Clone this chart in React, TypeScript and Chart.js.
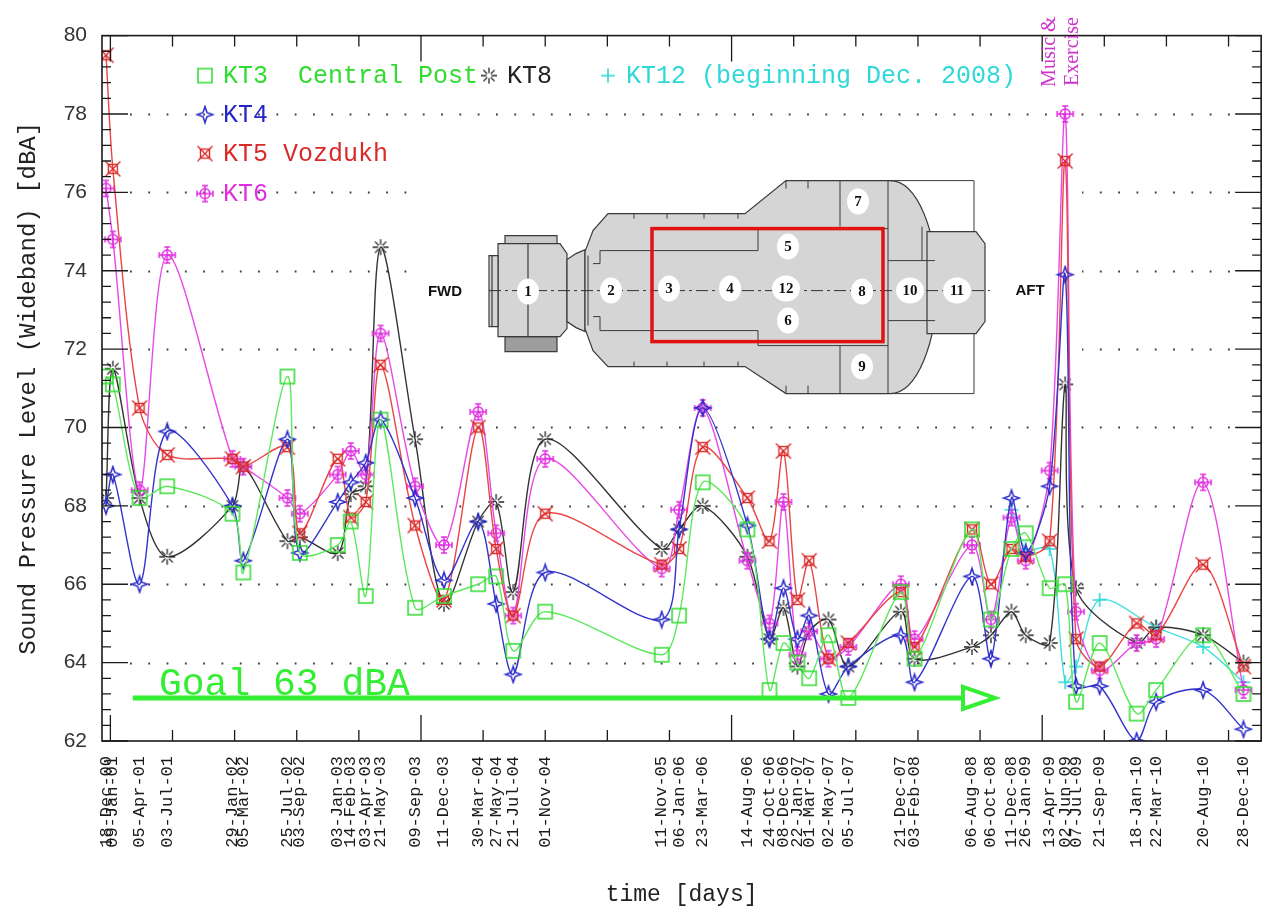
import React, { useEffect, useRef } from 'react';
import { Chart, registerables } from 'chart.js';

Chart.register(...registerables);

// measurement dates (x) and the labels printed under the axis
const dates = [
  '2000-12-18', '2001-01-09', '2001-04-05', '2001-07-03', '2002-01-29', '2002-03-05',
  '2002-07-25', '2002-09-03', '2003-01-03', '2003-02-14', '2003-04-03', '2003-05-21',
  '2003-09-09', '2003-12-11', '2004-03-30', '2004-05-27', '2004-07-21', '2004-11-01',
  '2005-11-11', '2006-01-06', '2006-03-23', '2006-08-14', '2006-10-24', '2006-12-08',
  '2007-01-22', '2007-03-01', '2007-05-02', '2007-07-05', '2007-12-21', '2008-02-03',
  '2008-08-06', '2008-10-06', '2008-12-11', '2009-01-26', '2009-04-13', '2009-06-02',
  '2009-07-07', '2009-09-21', '2010-01-18', '2010-03-22', '2010-08-20', '2010-12-28',
];
const dateLabels = [
  '18-Dec-00', '09-Jan-01', '05-Apr-01', '03-Jul-01', '29-Jan-02', '05-Mar-02',
  '25-Jul-02', '03-Sep-02', '03-Jan-03', '14-Feb-03', '03-Apr-03', '21-May-03',
  '09-Sep-03', '11-Dec-03', '30-Mar-04', '27-May-04', '21-Jul-04', '01-Nov-04',
  '11-Nov-05', '06-Jan-06', '23-Mar-06', '14-Aug-06', '24-Oct-06', '08-Dec-06',
  '22-Jan-07', '01-Mar-07', '02-May-07', '05-Jul-07', '21-Dec-07', '03-Feb-08',
  '06-Aug-08', '06-Oct-08', '11-Dec-08', '26-Jan-09', '13-Apr-09', '02-Jun-09',
  '07-Jul-09', '21-Sep-09', '18-Jan-10', '22-Mar-10', '20-Aug-10', '28-Dec-10',
];

const kt3 = [71.3, 71.1, 68.2, 68.5, 67.8, 66.3, 71.3, 66.8, 67.0, 67.6, 65.7, 70.2, 65.4, 65.7,
  66.0, 66.2, 64.3, 65.3, 64.2, 65.2, 68.6, 67.4, 63.3, 64.5, 64.0, 63.6, 64.7, 63.1,
  65.8, 64.1, 67.4, 65.1, 66.9, 67.3, 65.9, 66.0, 63.0, 64.5, 62.7, 63.3, 64.7, 63.2];
const kt4 = [68.0, 68.8, 66.0, 69.9, 68.0, 66.6, 69.7, 66.8, 68.1, 68.6, 69.1, 70.2, 68.2, 66.1,
  67.6, 65.5, 63.7, 66.3, 65.1, 67.4, 70.5, 67.5, 64.6, 65.9, 64.6, 65.2, 63.2, 63.9,
  64.7, 63.5, 66.2, 64.1, 68.2, 66.8, 68.5, 73.9, 63.4, 63.4, 62.0, 63.0, 63.3, 62.3];
const kt5 = [79.5, 76.6, 70.5, 69.3, 69.2, 69.0, 69.5, 67.3, 69.2, 67.7, 68.1, 71.6, 67.5, 65.6,
  70.0, 66.9, 65.2, 67.8, 66.5, 66.9, 69.5, 68.2, 67.1, 69.4, 65.6, 66.6, 64.1, 64.5,
  65.8, 64.4, 67.4, 66.0, 66.9, 66.7, 67.1, 76.8, 64.6, 63.9, 65.0, 64.7, 66.5, 63.9];
const kt6 = [76.1, 74.8, 68.4, 74.4, 69.2, 69.0, 68.2, 67.8, 68.8, 69.4, 68.8, 72.4, 68.5, 67.0,
  70.4, 67.3, 65.2, 69.2, 66.4, 67.9, 70.5, 66.6, 65.0, 68.1, 64.2, 64.8, 64.1, 64.4,
  66.0, 64.6, 67.0, 65.1, 67.7, 66.6, 68.9, 78.0, 65.3, 63.8, 64.5, 64.6, 68.6, 63.3];
const kt8 = [68.2, 71.5, 68.2, 66.7, 68.0, 69.0, 67.1, 67.2, 66.8, 68.3, 68.5, 74.6, 69.7, 65.5,
  67.6, 68.1, 65.8, 69.7, 66.9, 67.4, 68.0, 66.7, 64.6, 65.4, 63.9, 64.8, 65.1, 63.9,
  65.3, 64.1, 64.4, 64.7, 65.3, 64.7, 64.5, 71.1, 65.9, null, 64.5, 64.9, 64.7, 64.0];
const kt12 = [null, null, null, null, null, null, null, null, null, null, null, null, null, null,
  null, null, null, null, null, null, null, null, null, null, null, null, null, null,
  null, null, null, null, 67.9, 66.9, 66.9, 63.5, 63.9, 65.6, null, 64.9, 64.4, 63.5];

const yTickValues = [62, 64, 66, 68, 70, 72, 74, 76, 78, 80];
const gridValues = [64, 66, 68, 70, 72, 74, 76, 78];
const goalLevel = 63.1;
const goalFrom = 72;   // days since 1 Jan 2001
const goalHead = 2745;
const goalTip = 2848;
const musicDay = 3074;

const dayNum = (iso: string) =>
  (Date.parse(iso + 'T00:00:00Z') - Date.UTC(2001, 0, 1)) / 86400000;

const GREEN = '#2fdc2f';
const BLUE = '#2626c8';
const RED = '#d92a2a';
const MAGENTA = '#e02ee0';
const BLACK = '#222222';
const CYAN = '#2ed8d8';
const MONO = '"Liberation Mono", "Courier New", monospace';

function makeMarker(size: number, draw: (g: CanvasRenderingContext2D) => void) {
  const c = document.createElement('canvas');
  c.width = size;
  c.height = size;
  const g = c.getContext('2d')!;
  g.translate(size / 2, size / 2);
  draw(g);
  return c;
}

function starMarker(color: string) {
  return makeMarker(20, (g) => {
    g.strokeStyle = color;
    g.lineWidth = 1.5;
    g.beginPath();
    g.moveTo(0, -8); g.lineTo(2, -2); g.lineTo(8, 0); g.lineTo(2, 2);
    g.lineTo(0, 8); g.lineTo(-2, 2); g.lineTo(-8, 0); g.lineTo(-2, -2);
    g.closePath();
    g.stroke();
  });
}

function boxXMarker(color: string) {
  return makeMarker(20, (g) => {
    g.strokeStyle = color;
    g.lineWidth = 1.4;
    g.strokeRect(-4.5, -4.5, 9, 9);
    g.beginPath();
    g.moveTo(-7.5, -7.5); g.lineTo(7.5, 7.5);
    g.moveTo(7.5, -7.5); g.lineTo(-7.5, 7.5);
    g.stroke();
  });
}

function circleCrossMarker(color: string) {
  return makeMarker(22, (g) => {
    g.strokeStyle = color;
    g.lineWidth = 1.5;
    g.beginPath();
    g.arc(0, 0, 5, 0, Math.PI * 2);
    g.moveTo(-8, 0); g.lineTo(8, 0);
    g.moveTo(0, -8); g.lineTo(0, 8);
    g.moveTo(-8, -3); g.lineTo(-8, 3);
    g.moveTo(8, -3); g.lineTo(8, 3);
    g.moveTo(-3, -8); g.lineTo(3, -8);
    g.moveTo(-3, 8); g.lineTo(3, 8);
    g.stroke();
  });
}

function asteriskMarker(color: string) {
  return makeMarker(20, (g) => {
    g.strokeStyle = color;
    g.lineWidth = 1.3;
    g.beginPath();
    for (let k = 0; k < 8; k++) {
      const a = (k * Math.PI) / 4;
      g.moveTo(Math.cos(a) * 2.5, Math.sin(a) * 2.5);
      g.lineTo(Math.cos(a) * 8, Math.sin(a) * 8);
    }
    g.stroke();
  });
}

function squareMarker(color: string) {
  return makeMarker(20, (g) => {
    g.strokeStyle = color;
    g.lineWidth = 1.5;
    g.strokeRect(-7, -7, 14, 14);
  });
}

function plusMarker(color: string) {
  return makeMarker(20, (g) => {
    g.strokeStyle = color;
    g.lineWidth = 1.6;
    g.beginPath();
    g.moveTo(-7, 0); g.lineTo(7, 0);
    g.moveTo(0, -7); g.lineTo(0, 7);
    g.stroke();
  });
}

function drawStation(ctx: CanvasRenderingContext2D, ox: number, oy: number) {
  ctx.save();
  ctx.translate(ox, oy);
  ctx.fillStyle = '#ffffff';
  ctx.fillRect(-55, 5, 667, 230);

  const hull = '#d5d5d5';
  ctx.strokeStyle = '#3a3a3a';
  ctx.lineWidth = 1.2;

  const poly = (pts: number[][], fill: string) => {
    ctx.beginPath();
    pts.forEach(([px, py], i) => (i ? ctx.lineTo(px, py) : ctx.moveTo(px, py)));
    ctx.closePath();
    ctx.fillStyle = fill;
    ctx.fill();
    ctx.stroke();
  };
  const line = (pts: number[][]) => {
    ctx.beginPath();
    pts.forEach(([px, py], i) => (i ? ctx.lineTo(px, py) : ctx.moveTo(px, py)));
    ctx.stroke();
  };

  // module 1 (docking compartment)
  poly([[35, 72], [87, 72], [87, 80], [35, 80]], '#c9c9c9');
  poly([[35, 173], [87, 173], [87, 188], [35, 188]], '#9d9d9d');
  poly([[28, 80], [90, 80], [97, 90], [97, 165], [90, 173], [28, 173]], hull);
  poly([[19, 92], [28, 92], [28, 163], [19, 163]], hull);
  line([[22, 92], [22, 163]]);
  line([[58, 80], [58, 173]]);
  // neck
  poly([[97, 96], [106, 90], [115, 86], [115, 168], [106, 164], [97, 158]], hull);

  // main hull
  ctx.beginPath();
  ctx.moveTo(115, 88);
  ctx.lineTo(123, 67);
  ctx.lineTo(138, 50);
  ctx.lineTo(275, 50);
  ctx.lineTo(316, 17);
  ctx.lineTo(420, 17);
  ctx.bezierCurveTo(448, 17, 467, 70, 467, 123);
  ctx.bezierCurveTo(467, 176, 448, 230, 420, 230);
  ctx.lineTo(316, 230);
  ctx.lineTo(275, 203);
  ctx.lineTo(138, 203);
  ctx.lineTo(123, 187);
  ctx.lineTo(115, 165);
  ctx.closePath();
  ctx.fillStyle = hull;
  ctx.fill();
  ctx.stroke();

  // aft module
  poly([[457, 68], [506, 68], [515, 80], [515, 158], [506, 170], [457, 170]], hull);

  // thin outer frame
  ctx.lineWidth = 1;
  line([[420, 17], [504, 17], [504, 68]]);
  line([[420, 230], [504, 230], [504, 170]]);

  // inner partitions
  line([[118, 92], [118, 162]]);
  line([[123, 100], [130, 100], [130, 87], [288, 87], [288, 65], [418, 65]]);
  line([[123, 153], [130, 153], [130, 167], [288, 167], [288, 182], [418, 182]]);
  line([[370, 17], [370, 63]]);
  line([[370, 182], [370, 230]]);
  line([[418, 17], [418, 230]]);
  line([[452, 63], [452, 97]]);
  line([[418, 97], [465, 97]]);
  line([[418, 157], [465, 157]]);
  [164, 197, 234, 268].forEach((tx) => {
    line([[tx, 50], [tx, 55]]);
    line([[tx, 198], [tx, 203]]);
  });
  [316, 338].forEach((tx) => {
    line([[tx, 17], [tx, 25]]);
    line([[tx, 222], [tx, 230]]);
  });

  // centre line
  ctx.save();
  ctx.setLineDash([12, 4, 3, 4]);
  ctx.strokeStyle = '#333';
  line([[19, 127], [520, 127]]);
  ctx.restore();

  // highlighted region
  ctx.strokeStyle = '#e01212';
  ctx.lineWidth = 3.5;
  ctx.strokeRect(182, 65, 231, 113);

  // location numbers
  const spots: [string, number, number][] = [
    ['1', 58, 128], ['2', 141, 127], ['3', 199, 125], ['4', 260, 125], ['12', 316, 125],
    ['8', 392, 128], ['10', 440, 127], ['11', 487, 127], ['5', 318, 83], ['6', 318, 157],
    ['7', 388, 38], ['9', 392, 203],
  ];
  ctx.font = 'bold 15px "Liberation Serif", serif';
  ctx.textAlign = 'center';
  ctx.textBaseline = 'middle';
  spots.forEach(([t, sx, sy]) => {
    ctx.beginPath();
    ctx.ellipse(sx, sy, t.length > 1 ? 14 : 11, 13, 0, 0, Math.PI * 2);
    ctx.fillStyle = '#ffffff';
    ctx.fill();
    ctx.fillStyle = '#111';
    ctx.fillText(t, sx, sy + 1);
  });

  ctx.font = 'bold 15px "Liberation Sans", Arial, sans-serif';
  ctx.fillText('FWD', -25, 128);
  ctx.fillText('AFT', 560, 127);
  ctx.restore();
}

export default function App() {
  const canvasRef = useRef<HTMLCanvasElement>(null);

  useEffect(() => {
    if (!canvasRef.current) return;

    const mk = {
      kt3: squareMarker(GREEN),
      kt4: starMarker(BLUE),
      kt5: boxXMarker(RED),
      kt6: circleCrossMarker(MAGENTA),
      kt8: asteriskMarker(BLACK),
      kt12: plusMarker(CYAN),
    };

    const pts = (vals: (number | null)[]) => dates.map((d, i) => ({ x: dayNum(d), y: vals[i] }));

    const series = (label: string, vals: (number | null)[], line: string, marker: HTMLCanvasElement) => ({
      label,
      data: pts(vals),
      borderColor: line,
      borderWidth: 1.4,
      pointStyle: marker,
      pointRadius: 8,
      tension: 0.3,
      spanGaps: true,
      fill: false,
    });

    const framePlugin = {
      id: 'frame',
      beforeDatasetsDraw(chart: any) {
        const { ctx, chartArea: a, scales } = chart;
        const y = scales.y;
        ctx.save();
        ctx.strokeStyle = '#3c3c3c';
        ctx.lineWidth = 1.8;
        ctx.setLineDash([1.8, 16.5]);
        gridValues.forEach((v) => {
          const py = Math.round(y.getPixelForValue(v)) + 0.5;
          ctx.beginPath();
          ctx.moveTo(a.left + 28, py);
          ctx.lineTo(a.right - 28, py);
          ctx.stroke();
        });
        ctx.restore();
        drawStation(ctx, a.left + 368, a.top + 128);
      },
      afterDatasetsDraw(chart: any) {
        const { ctx, chartArea: a, scales } = chart;
        const x = scales.x;
        const y = scales.y;
        ctx.save();

        // frame
        ctx.strokeStyle = '#1a1a1a';
        ctx.lineWidth = 1.6;
        ctx.strokeRect(a.left, a.top, a.right - a.left, a.bottom - a.top);

        // time ticks, top and bottom
        ctx.lineWidth = 1.3;
        for (let d = 0; d <= 3700; d += 200) {
          const px = x.getPixelForValue(d);
          const len = d % 1000 === 0 ? 26 : 11;
          ctx.beginPath();
          ctx.moveTo(px, a.top);
          ctx.lineTo(px, a.top + len);
          ctx.moveTo(px, a.bottom);
          ctx.lineTo(px, a.bottom - len);
          ctx.stroke();
        }
        // level ticks, left and right
        for (let i = 0; i <= 45; i++) {
          const v = 62 + i * 0.4;
          const py = y.getPixelForValue(v);
          const len = i % 5 === 0 ? 26 : 9;
          ctx.beginPath();
          ctx.moveTo(a.left, py);
          ctx.lineTo(a.left + len, py);
          ctx.moveTo(a.right, py);
          ctx.lineTo(a.right - len, py);
          ctx.stroke();
        }

        // legend
        const lx = a.left;
        const ly = a.top;
        const entries: [HTMLCanvasElement, number, number, string, string][] = [
          [mk.kt3, 103, 40, 'KT3  Central Post', GREEN],
          [mk.kt8, 387, 40, 'KT8', BLACK],
          [mk.kt12, 506, 40, 'KT12 (beginning Dec. 2008)', CYAN],
          [mk.kt4, 103, 79, 'KT4', BLUE],
          [mk.kt5, 103, 118, 'KT5 Vozdukh', RED],
          [mk.kt6, 103, 158, 'KT6', MAGENTA],
        ];
        ctx.font = `25px ${MONO}`;
        ctx.textBaseline = 'middle';
        ctx.textAlign = 'left';
        entries.forEach(([m, ex, ey, text, color]) => {
          ctx.drawImage(m, lx + ex - m.width / 2, ly + ey - m.height / 2);
          ctx.fillStyle = color;
          ctx.fillText(text, lx + ex + 18, ly + ey + 1);
        });

        // goal arrow
        const gy = y.getPixelForValue(goalLevel);
        const gx0 = x.getPixelForValue(goalFrom);
        const gxh = x.getPixelForValue(goalHead);
        const gxt = x.getPixelForValue(goalTip);
        ctx.strokeStyle = '#33ee33';
        ctx.lineWidth = 5;
        ctx.beginPath();
        ctx.moveTo(gx0, gy);
        ctx.lineTo(gxh, gy);
        ctx.stroke();
        ctx.lineWidth = 4;
        ctx.lineJoin = 'miter';
        ctx.beginPath();
        ctx.moveTo(gxh, gy - 11);
        ctx.lineTo(gxt, gy);
        ctx.lineTo(gxh, gy + 11);
        ctx.closePath();
        ctx.fillStyle = '#ffffff';
        ctx.fill();
        ctx.stroke();
        ctx.fillStyle = '#33ee33';
        ctx.font = `38px ${MONO}`;
        ctx.textBaseline = 'alphabetic';
        ctx.fillText('Goal 63 dBA', a.left + 57, gy - 3);

        // annotation of the June 2009 peak
        const mx = x.getPixelForValue(musicDay);
        ctx.fillStyle = '#cc33cc';
        ctx.font = '20px "Liberation Serif", serif';
        ctx.textBaseline = 'middle';
        ctx.textAlign = 'center';
        [['Music &', -15], ['Exercise', 8]].forEach(([t, off]) => {
          ctx.save();
          ctx.translate(mx + (off as number), a.top + 16);
          ctx.rotate(-Math.PI / 2);
          ctx.fillText(t as string, 0, 0);
          ctx.restore();
        });

        ctx.restore();
      },
    };

    const chart = new Chart(canvasRef.current, {
      type: 'line',
      data: {
        datasets: [
          series('KT3 Central Post', kt3, '#5ee85e', mk.kt3),
          series('KT4', kt4, '#3434cc', mk.kt4),
          series('KT5 Vozdukh', kt5, '#e84545', mk.kt5),
          series('KT6', kt6, '#e848e8', mk.kt6),
          series('KT8', kt8, '#333333', mk.kt8),
          series('KT12 (beginning Dec. 2008)', kt12, '#45dede', mk.kt12),
        ] as any,
      },
      options: {
        animation: false,
        responsive: true,
        maintainAspectRatio: false,
        layout: { padding: { top: 24, right: 3, left: 0, bottom: 0 } },
        plugins: {
          legend: { display: false },
          tooltip: { enabled: false },
        },
        scales: {
          x: {
            type: 'linear',
            min: -27,
            max: 3705,
            grid: { display: false },
            border: { display: false },
            afterBuildTicks: (s: any) => {
              s.ticks = dates.map((d) => ({ value: dayNum(d) }));
            },
            afterFit: (s: any) => {
              s.height = 168;
            },
            ticks: {
              autoSkip: false,
              minRotation: 90,
              maxRotation: 90,
              padding: 7,
              color: '#1a1a1a',
              font: { family: MONO, size: 17 },
              callback: (_v: any, i: number) => dateLabels[i],
            },
            title: {
              display: true,
              text: 'time [days]',
              color: '#222',
              font: { family: MONO, size: 23 },
              padding: 0,
            },
          },
          y: {
            min: 62,
            max: 80,
            grid: { display: false, drawTicks: false },
            border: { display: false },
            afterBuildTicks: (s: any) => {
              s.ticks = yTickValues.map((v) => ({ value: v }));
            },
            afterFit: (s: any) => {
              s.width = 94;
            },
            ticks: {
              padding: 15,
              color: '#333',
              font: { family: '"Liberation Sans", Arial, sans-serif', size: 21 },
            },
            title: {
              display: true,
              text: 'Sound Pressure Level (Wideband) [dBA]',
              color: '#222',
              font: { family: MONO, size: 24 },
              padding: { top: 6, bottom: 0 },
            },
          },
        },
      } as any,
      plugins: [framePlugin],
    });

    return () => chart.destroy();
  }, []);

  return (
    <div style={{ position: 'relative', width: 1263, height: 901 }}>
      <canvas ref={canvasRef} />
    </div>
  );
}
